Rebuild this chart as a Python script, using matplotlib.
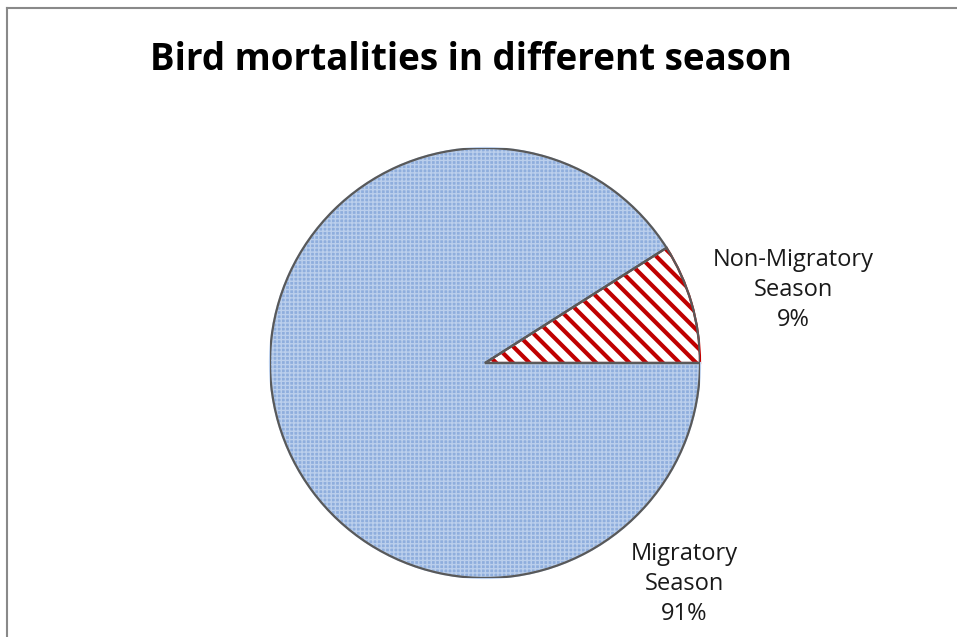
import matplotlib
matplotlib.use("Agg")
import matplotlib.pyplot as plt
from matplotlib.lines import Line2D
from matplotlib.patches import PathPatch

# data
labels = ["Non-Migratory\nSeason", "Migratory\nSeason"]
shares = [9, 91]
pct_text = ["9%", "91%"]

W, H = 957, 637
fig = plt.figure(figsize=(W / 100, H / 100), dpi=100)
plt.rcParams["font.family"] = ["Open Sans", "DejaVu Sans"]
plt.rcParams["hatch.linewidth"] = 3.0

# pie centred at (485, 363) px with radius 215 px
cx, cy, r = 485, 363, 215
ax = fig.add_axes([(cx - r) / W, (H - cy - r) / H, 2 * r / W, 2 * r / H])
wedges, _ = ax.pie(
    shares,
    startangle=0,
    counterclock=True,
    colors=["white", "#8FAEDD"],
    wedgeprops=dict(edgecolor="#595959", linewidth=1.6),
)
wedges[0].set_hatch("\\\\")
wedges[0].set_edgecolor("#C00000")
wedges[1].set_hatch("++++")
wedges[1].set_edgecolor("#BBCFEC")
if hasattr(wedges[1], "set_hatch_linewidth"):
    wedges[1].set_hatch_linewidth(1.0)
# redraw outlines in grey over the hatches
for w in wedges:
    outline = PathPatch(w.get_path(), transform=w.get_transform(), fill=False,
                        edgecolor="#595959", linewidth=1.6)
    ax.add_patch(outline)
ax.set_xlim(-1, 1)
ax.set_ylim(-1, 1)
ax.set_aspect("equal")
ax.axis("off")

# data labels
label_pos = [(1.433, 0.34), (0.926, -1.028)]
for lab, pct, (x, y) in zip(labels, pct_text, label_pos):
    ax.text(x, y, f"{lab}\n{pct}", ha="center", va="center", fontsize=17,
            linespacing=1.32, color="#1a1a1a", clip_on=False)

fig.text(471 / W, 1 - 60 / H, "Bird mortalities in different season",
         ha="center", va="center", fontsize=26.5, fontweight="bold")

# chart frame (left and top edges visible)
fig.add_artist(Line2D([7.5 / W, 7.5 / W], [0, 1 - 7.5 / H],
                      transform=fig.transFigure, color="#898989", lw=1.5))
fig.add_artist(Line2D([7.5 / W, 1], [1 - 7.5 / H, 1 - 7.5 / H],
                      transform=fig.transFigure, color="#898989", lw=1.5))

fig.savefig("out.png", dpi=100, facecolor="white")
